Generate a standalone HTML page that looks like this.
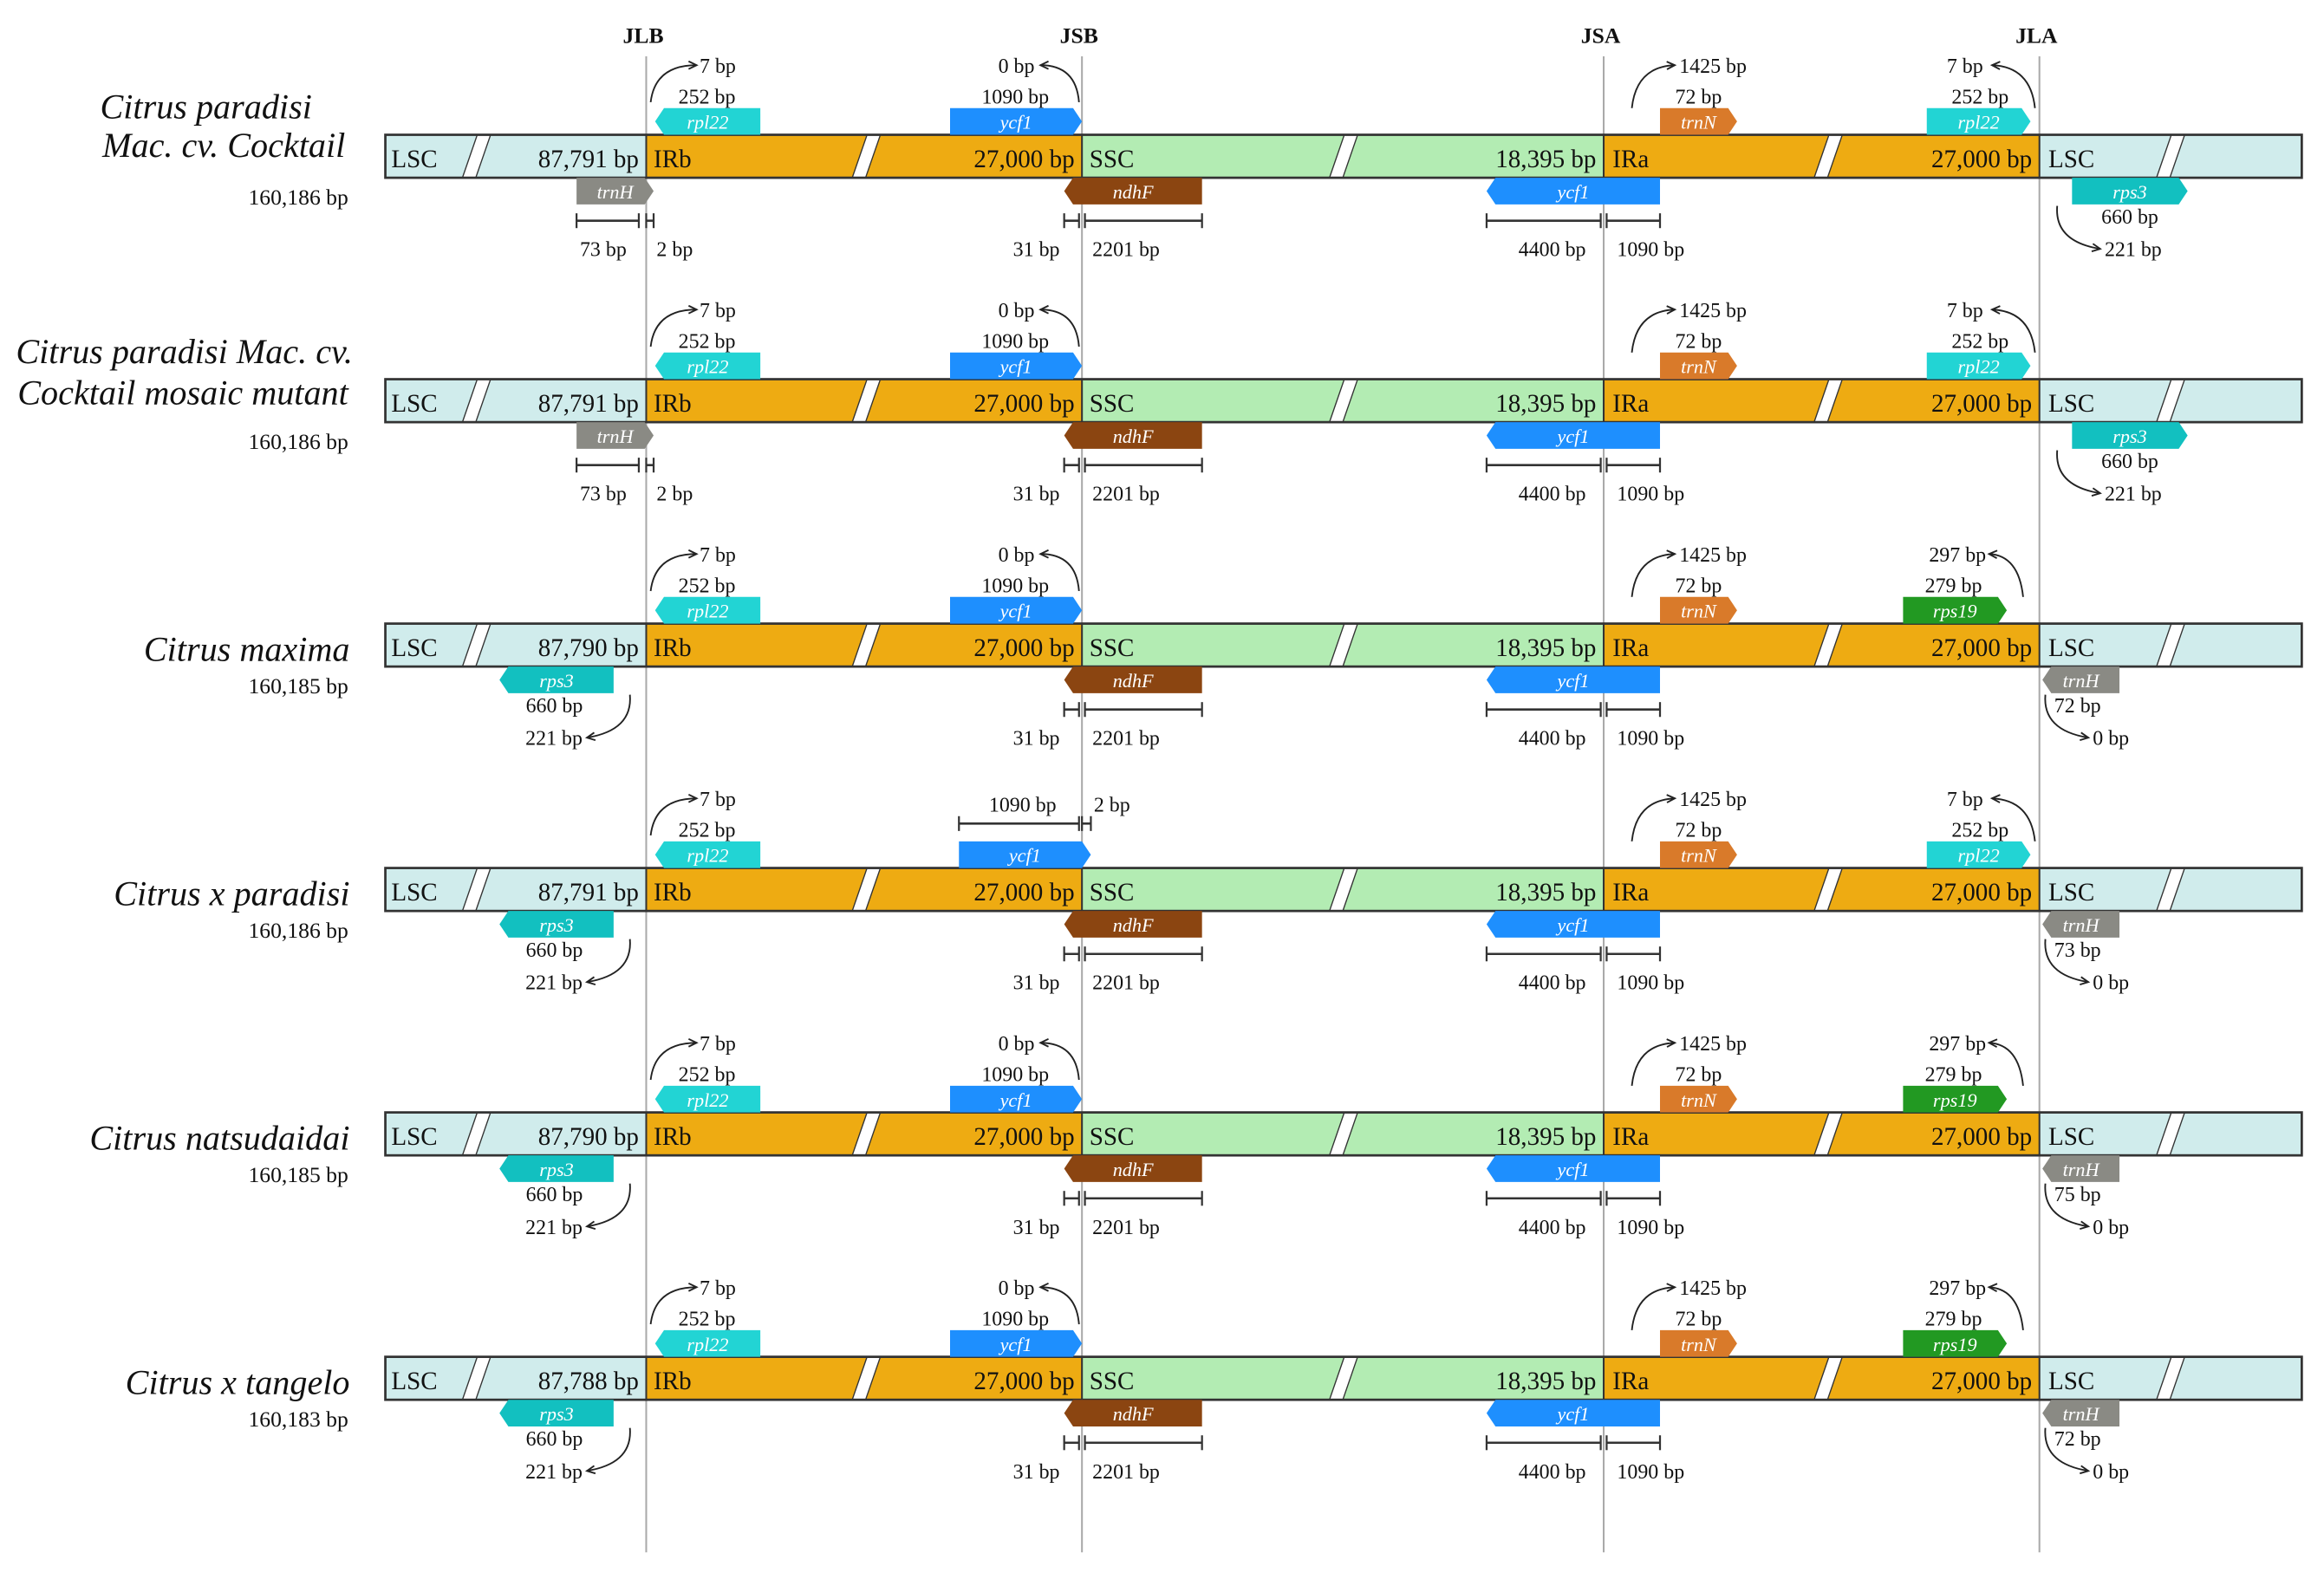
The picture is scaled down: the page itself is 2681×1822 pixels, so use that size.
<!DOCTYPE html>
<html><head><meta charset="utf-8"><style>
html,body{margin:0;padding:0;background:#fff}
svg{display:block}
text{font-family:"Liberation Serif",serif;fill:#111}
</style></head><body>
<svg id="chart" width="2681" height="1822" viewBox="0 0 1568 1066" preserveAspectRatio="none" xmlns="http://www.w3.org/2000/svg"></svg>
<script>
const species=[["Citrus paradisi","Mac. cv. Cocktail"],["Citrus paradisi Mac. cv.","Cocktail mosaic mutant"],["Citrus maxima"],["Citrus x paradisi"],["Citrus natsudaidai"],["Citrus x tangelo"]];
const genomeSize=["160,186 bp","160,186 bp","160,185 bp","160,186 bp","160,185 bp","160,183 bp"];
const lscLen=["87,791 bp","87,791 bp","87,790 bp","87,791 bp","87,790 bp","87,788 bp"];
const irLen=["27,000 bp","27,000 bp","27,000 bp","27,000 bp","27,000 bp","27,000 bp"];
const sscLen=["18,395 bp","18,395 bp","18,395 bp","18,395 bp","18,395 bp","18,395 bp"];
const rowType=["A","A","B","C","B","B"];
const rightTrnH=["","","72 bp","73 bp","75 bp","72 bp"];
const junctions=[["JLB",436],["JSB",730],["JSA",1082],["JLA",1376]];
const rowTops=[91,256,421,586,751,916];
const C={lsc:"#d0ecec",ir:"#eeab12",ssc:"#b3ecb3",rpl22:"#22d4d4",ycf1:"#1e8ffe",trnN:"#d97a2a",ndhF:"#8b4511",trnH:"#8a8a84",rps3:"#12c0c0",rps19:"#229922"};
const svg=document.getElementById('chart');
const NS="http://www.w3.org/2000/svg";
function mk(tag,attrs,parent){const e=document.createElementNS(NS,tag);for(const k in attrs)e.setAttribute(k,attrs[k]);(parent||svg).appendChild(e);return e;}
function txt(x,y,s,opts,parent){const t=mk('text',Object.assign({x:x,y:y,'font-size':14},opts||{}),parent);t.textContent=s;return t;}
function gene(g,x1,x2,y1,y2,dir,color,name){
  const p=6;let pts;
  if(dir>0)pts=[[x1,y1],[x2-p,y1],[x2,(y1+y2)/2],[x2-p,y2],[x1,y2]];
  else pts=[[x1+p,y1],[x2,y1],[x2,y2],[x1+p,y2],[x1,(y1+y2)/2]];
  const e=mk('polygon',{points:pts.map(a=>a.join(',')).join(' '),fill:color},g);
  
  
  const t=txt((x1+x2)/2,y2-4,name,{'text-anchor':'middle','font-size':13,'font-style':'italic',fill:'#fff',style:'fill:#fff'},g);
  
  
}
function curve(g,x1,y1,x2,y2,cx,cy){
  mk('path',{d:`M${x1},${y1} Q${cx},${cy} ${x2},${y2}`,fill:'none',stroke:'#222','stroke-width':1.1},g);
  const a=Math.atan2(y2-cy,x2-cx);const L=6;
  mk('path',{d:`M${x2-L*Math.cos(a-0.45)},${y2-L*Math.sin(a-0.45)} L${x2},${y2} L${x2-L*Math.cos(a+0.45)},${y2-L*Math.sin(a+0.45)}`,fill:'none',stroke:'#222','stroke-width':1.1},g);
}
function scale(g,x1,x2,y){
  mk('line',{x1:x1,y1:y,x2:x2,y2:y,stroke:'#333','stroke-width':1.5},g);
  mk('line',{x1:x1,y1:y-5,x2:x1,y2:y+5,stroke:'#333','stroke-width':1.3},g);
  mk('line',{x1:x2,y1:y-5,x2:x2,y2:y+5,stroke:'#333','stroke-width':1.3},g);
}
junctions.forEach(j=>{
  const l=mk('line',{x1:j[1],y1:38,x2:j[1],y2:1048,stroke:'#aaa','stroke-width':1.2});
  
  
  const t=txt(j[1]-2,29,j[0],{'text-anchor':'middle','font-weight':'bold','font-size':15});
  
  
});
rowTops.forEach((T,i)=>{
  const g=mk('g',{});
  
  
  const B=T+29;
  const sp=species[i];
  const sf=23.5;
  if(sp.length===2){
    if(i===0){
      txt(139,T-11,sp[0],{'text-anchor':'middle','font-size':sf,'font-style':'italic'},g);
      txt(151,T+15,sp[1],{'text-anchor':'middle','font-size':sf,'font-style':'italic'},g);
    } else {
      txt(238,T-11,sp[0],{'text-anchor':'end','font-size':sf,'font-style':'italic'},g);
      txt(235,T+17,sp[1],{'text-anchor':'end','font-size':sf,'font-style':'italic'},g);
    }
    txt(235,T+47,genomeSize[i],{'text-anchor':'end','font-size':15},g);
  } else {
    txt(236,T+25,sp[0],{'text-anchor':'end','font-size':sf,'font-style':'italic'},g);
    txt(235,T+47,genomeSize[i],{'text-anchor':'end','font-size':15},g);
  }
  const segs=[[260,436,C.lsc],[436,730,C.ir],[730,1082,C.ssc],[1082,1376,C.ir],[1376,1553,C.lsc]];
  segs.forEach(s=>mk('rect',{x:s[0],y:T,width:s[1]-s[0],height:29,fill:s[2]},g));
  [320,583,905,1232,1463].forEach(x=>mk('polygon',{points:`${x-8},${B} ${x+1},${B} ${x+11},${T} ${x+2},${T}`,fill:'#fff',stroke:'#333','stroke-width':0.8},g));
  mk('rect',{x:260,y:T,width:1293,height:29,fill:'none',stroke:'#333','stroke-width':1.6},g);
  [436,730,1082,1376].forEach(x=>mk('line',{x1:x,y1:T,x2:x,y2:B,stroke:'#333','stroke-width':1.2},g));
  const fs={'font-size':17};
  txt(264,T+22,'LSC',fs,g);
  txt(431,T+22,lscLen[i],Object.assign({'text-anchor':'end'},fs),g);
  txt(441,T+22,'IRb',fs,g);
  txt(725,T+22,irLen[i],Object.assign({'text-anchor':'end'},fs),g);
  txt(735,T+22,'SSC',fs,g);
  txt(1077,T+22,sscLen[i],Object.assign({'text-anchor':'end'},fs),g);
  txt(1088,T+22,'IRa',fs,g);
  txt(1371,T+22,irLen[i],Object.assign({'text-anchor':'end'},fs),g);
  txt(1382,T+22,'LSC',fs,g);
  const up1=T-18, up2=T;
  gene(g,442,513,up1,up2,-1,C.rpl22,'rpl22');
  txt(477,T-21,'252 bp',{'text-anchor':'middle'},g);
  txt(472,T-42,'7 bp',{},g);
  curve(g,439,T-22,470,T-47,442,T-47);
  if(rowType[i]==='C'){
    gene(g,647,736,up1,up2,1,C.ycf1,'ycf1');
    scale(g,647,728,T-30);scale(g,730,736,T-30);
    txt(690,T-38,'1090 bp',{'text-anchor':'middle'},g);
    txt(738,T-38,'2 bp',{},g);
  } else {
    gene(g,641,730,up1,up2,1,C.ycf1,'ycf1');
    txt(685,T-21,'1090 bp',{'text-anchor':'middle'},g);
    txt(698,T-42,'0 bp',{'text-anchor':'end'},g);
    curve(g,728,T-22,702,T-47,726,T-47);
  }
  gene(g,1120,1172,up1,up2,1,C.trnN,'trnN');
  txt(1146,T-21,'72 bp',{'text-anchor':'middle'},g);
  txt(1133,T-42,'1425 bp',{},g);
  curve(g,1101,T-18,1130,T-47,1104,T-46);
  if(rowType[i]==='B'){
    gene(g,1284,1354,up1,up2,1,C.rps19,'rps19');
    txt(1318,T-21,'279 bp',{'text-anchor':'middle'},g);
    txt(1340,T-42,'297 bp',{'text-anchor':'end'},g);
    curve(g,1365,T-18,1342,T-47,1362,T-46);
  } else {
    gene(g,1300,1370,up1,up2,1,C.rpl22,'rpl22');
    txt(1336,T-21,'252 bp',{'text-anchor':'middle'},g);
    txt(1338,T-42,'7 bp',{'text-anchor':'end'},g);
    curve(g,1373,T-18,1344,T-47,1370,T-46);
  }
  const d1=B, d2=B+18, sy=T+58, ly=T+82;
  gene(g,718,811,d1,d2,-1,C.ndhF,'ndhF');
  scale(g,718,728,sy);scale(g,732,811,sy);
  txt(715,ly,'31 bp',{'text-anchor':'end'},g);
  txt(737,ly,'2201 bp',{},g);
  gene(g,1003,1120,d1,d2,-1,C.ycf1,'ycf1');
  scale(g,1003,1080,sy);scale(g,1084,1120,sy);
  txt(1070,ly,'4400 bp',{'text-anchor':'end'},g);
  txt(1091,ly,'1090 bp',{},g);
  if(rowType[i]==='A'){
    gene(g,389,441,d1,d2,1,C.trnH,'trnH');
    scale(g,389,431,sy);scale(g,436,441,sy);
    txt(407,ly,'73 bp',{'text-anchor':'middle'},g);
    txt(443,ly,'2 bp',{},g);
    gene(g,1398,1476,d1,d2,1,C.rps3,'rps3');
    txt(1437,T+60,'660 bp',{'text-anchor':'middle'},g);
    txt(1420,T+82,'221 bp',{},g);
    curve(g,1388,T+48,1417,T+77,1386,T+72);
  } else {
    gene(g,337,414,d1,d2,-1,C.rps3,'rps3');
    txt(374,T+60,'660 bp',{'text-anchor':'middle'},g);
    txt(393,T+82,'221 bp',{'text-anchor':'end'},g);
    curve(g,425,T+48,396,T+77,427,T+72);
    gene(g,1378,1430,d1,d2,-1,C.trnH,'trnH');
    txt(1386,T+60,rightTrnH[i],{},g);
    txt(1412,T+82,'0 bp',{},g);
    curve(g,1380,T+48,1409,T+77,1378,T+72);
  }
});
</script>
</body></html>
